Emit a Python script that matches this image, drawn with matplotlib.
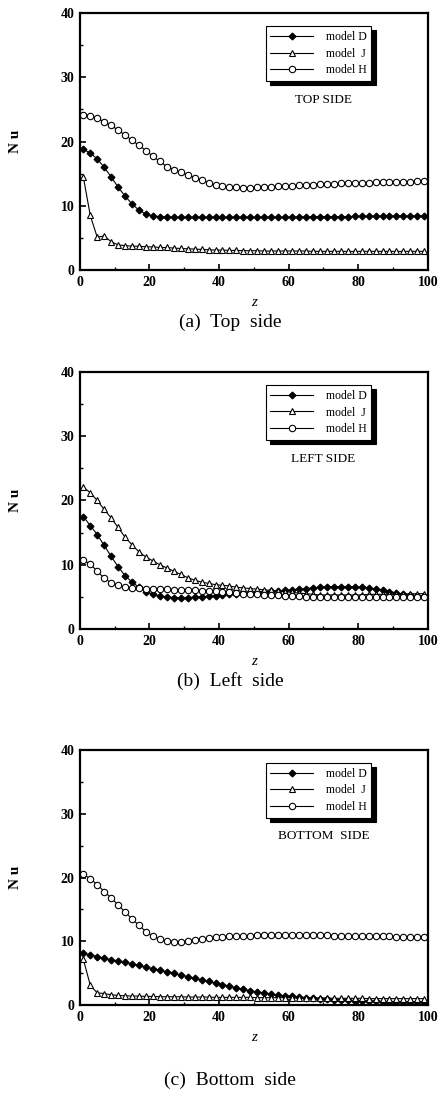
import numpy as np
import matplotlib
matplotlib.use("Agg")
import matplotlib.pyplot as plt
from matplotlib.ticker import MultipleLocator

plt.rcParams['font.family'] = ['Liberation Serif', 'DejaVu Serif']

# axial positions of the plotted points
z = np.arange(1, 100, 2)

# (a) top side
top_D = [18.8, 18.2, 17.3, 16.0, 14.5, 12.9, 11.5, 10.3, 9.3, 8.7,
         8.4, 8.3, 8.25, 8.2, 8.2, 8.2, 8.2, 8.2, 8.2, 8.2,
         8.2, 8.2, 8.2, 8.2, 8.2, 8.2, 8.2, 8.2, 8.2, 8.2,
         8.25, 8.25, 8.25, 8.3, 8.3, 8.3, 8.3, 8.3, 8.3, 8.35,
         8.35, 8.35, 8.35, 8.35, 8.4, 8.4, 8.4, 8.4, 8.4, 8.4]
top_J = [14.5, 8.5, 5.1, 5.3, 4.4, 3.9, 3.8, 3.7, 3.7, 3.6,
         3.6, 3.5, 3.5, 3.4, 3.35, 3.3, 3.25, 3.2, 3.15, 3.1,
         3.1, 3.05, 3.05, 3.0, 3.0, 3.0, 2.95, 2.95, 2.95, 2.95,
         2.95, 2.95, 2.95, 2.9, 2.9, 2.9, 2.9, 2.9, 2.9, 2.9,
         2.9, 2.9, 2.9, 2.9, 2.9, 2.9, 2.9, 2.9, 2.9, 2.9]
top_H = [24.2, 24.0, 23.6, 23.1, 22.5, 21.8, 21.0, 20.2, 19.4, 18.6,
         17.7, 16.9, 16.1, 15.6, 15.2, 14.8, 14.4, 14.0, 13.6, 13.2,
         13.0, 12.9, 12.85, 12.8, 12.8, 12.85, 12.9, 12.95, 13.0, 13.05,
         13.1, 13.2, 13.25, 13.3, 13.35, 13.4, 13.45, 13.5, 13.5, 13.55,
         13.6, 13.6, 13.65, 13.65, 13.7, 13.7, 13.75, 13.75, 13.8, 13.8]

# (b) left side
left_D = [17.5, 16.1, 14.7, 13.0, 11.3, 9.7, 8.3, 7.3, 6.5, 5.8,
          5.4, 5.1, 5.0, 4.9, 4.9, 4.9, 4.95, 5.0, 5.1, 5.2,
          5.3, 5.4, 5.5, 5.6, 5.7, 5.75, 5.8, 5.85, 5.9, 6.0,
          6.1, 6.2, 6.3, 6.4, 6.5, 6.55, 6.6, 6.6, 6.6, 6.55,
          6.5, 6.35, 6.2, 6.0, 5.8, 5.6, 5.45, 5.3, 5.2, 5.1]
left_J = [22.1, 21.2, 20.0, 18.6, 17.3, 15.8, 14.3, 13.1, 12.0, 11.2,
          10.6, 10.0, 9.5, 9.0, 8.5, 8.0, 7.6, 7.3, 7.1, 6.9,
          6.8, 6.7, 6.5, 6.4, 6.3, 6.2, 6.1, 6.0, 5.9, 5.8,
          5.7, 5.6, 5.5, 5.4, 5.3, 5.3, 5.3, 5.3, 5.3, 5.3,
          5.3, 5.4, 5.4, 5.4, 5.4, 5.4, 5.45, 5.45, 5.5, 5.5]
left_H = [10.7, 10.1, 9.0, 7.9, 7.2, 6.8, 6.55, 6.4, 6.35, 6.3,
          6.25, 6.2, 6.15, 6.1, 6.05, 6.0, 6.0, 5.95, 5.9, 5.85,
          5.8, 5.7, 5.6, 5.5, 5.45, 5.4, 5.35, 5.3, 5.25, 5.2,
          5.15, 5.1, 5.05, 5.0, 5.0, 4.95, 4.95, 4.95, 4.95, 4.95,
          4.95, 4.95, 4.95, 4.95, 4.95, 4.95, 4.95, 4.95, 4.95, 4.95]

# (c) bottom side
bot_D = [8.1, 7.9, 7.6, 7.35, 7.1, 6.9, 6.7, 6.45, 6.2, 5.95,
         5.7, 5.45, 5.2, 4.95, 4.7, 4.45, 4.2, 3.95, 3.7, 3.45,
         3.2, 2.95, 2.7, 2.45, 2.25, 2.05, 1.85, 1.7, 1.55, 1.45,
         1.35, 1.25, 1.15, 1.05, 1.0, 0.9, 0.85, 0.8, 0.75, 0.7,
         0.65, 0.6, 0.6, 0.55, 0.55, 0.5, 0.5, 0.5, 0.5, 0.5]
bot_J = [7.2, 3.1, 1.9, 1.8, 1.6, 1.5, 1.45, 1.4, 1.4, 1.35,
         1.35, 1.3, 1.3, 1.3, 1.3, 1.25, 1.25, 1.25, 1.25, 1.2,
         1.2, 1.2, 1.2, 1.2, 1.2, 1.15, 1.15, 1.15, 1.15, 1.15,
         1.1, 1.1, 1.1, 1.1, 1.1, 1.1, 1.05, 1.05, 1.05, 1.05,
         1.05, 1.0, 1.0, 1.0, 1.0, 1.0, 1.0, 1.0, 1.0, 1.0]
bot_H = [20.5, 19.8, 18.9, 17.8, 16.8, 15.7, 14.6, 13.5, 12.5, 11.5,
         10.8, 10.3, 10.05, 9.95, 9.95, 10.05, 10.2, 10.35, 10.5, 10.6,
         10.7, 10.75, 10.8, 10.85, 10.9, 10.95, 11.0, 11.0, 11.0, 11.0,
         11.0, 11.0, 11.0, 11.0, 11.0, 10.95, 10.9, 10.85, 10.85, 10.8,
         10.8, 10.8, 10.75, 10.75, 10.75, 10.7, 10.7, 10.7, 10.7, 10.7]

panels = [
    ("(a)  Top  side", "TOP SIDE", top_D, top_J, top_H),
    ("(b)  Left  side", "LEFT SIDE", left_D, left_J, left_H),
    ("(c)  Bottom  side", "BOTTOM  SIDE", bot_D, bot_J, bot_H),
]
# axes rectangles in figure fraction: left, bottom, width, height
rects = [
    [0.181, 0.753, 0.789, 0.235],
    [0.181, 0.4245, 0.789, 0.2352],
    [0.181, 0.0805, 0.789, 0.2333],
]
# caption centres, pixels from the top
caption_px = [322, 681, 1080]

fig = plt.figure(figsize=(4.41, 10.93), dpi=100)

for (caption, side, d, j, h), rect, cy in zip(panels, rects, caption_px):
    ax = fig.add_axes(rect)
    ax.plot(z, d, color='k', lw=0.8, marker='D', ms=3.4, mfc='k', mec='k',
            label='model D')
    ax.plot(z, j, color='k', lw=0.8, marker='^', ms=4.6, mfc='white', mec='k',
            mew=0.8, label='model  J')
    ax.plot(z, h, color='k', lw=0.8, marker='o', ms=4.6, mfc='white', mec='k',
            mew=0.8, label='model H')

    ax.set_xlim(0, 100)
    ax.set_ylim(0, 40)
    ax.xaxis.set_major_locator(MultipleLocator(20))
    ax.xaxis.set_minor_locator(MultipleLocator(10))
    ax.yaxis.set_major_locator(MultipleLocator(10))
    ax.yaxis.set_minor_locator(MultipleLocator(5))
    ax.tick_params(which='both', direction='in', top=False, right=False)
    ax.tick_params(which='major', length=4, width=1.2, labelsize=10, pad=4)
    ax.tick_params(which='minor', length=2, width=1.0)
    for lab in ax.get_xticklabels() + ax.get_yticklabels():
        lab.set_fontweight('bold')
    for sp in ax.spines.values():
        sp.set_linewidth(1.6)

    ax.set_ylabel("N u", fontsize=11, fontweight='bold')
    ax.yaxis.set_label_coords(-0.165, 0.5)
    ax.set_xlabel("z", fontsize=11, fontstyle='italic', va='center')
    ax.xaxis.set_label_coords(0.5, -0.128)

    leg = ax.legend(loc='upper left', bbox_to_anchor=(0.534, 0.949),
                    borderaxespad=0, fontsize=8.5, handlelength=3.6,
                    handletextpad=1.1, labelspacing=0.4, fancybox=False,
                    framealpha=1, edgecolor='k', borderpad=0.4,
                    shadow={'color': 'k', 'alpha': 1, 'ox': 3, 'oy': -3})
    leg.get_frame().set_linewidth(0.8)

    ax.text(0.70, 0.662, side, transform=ax.transAxes, ha='center',
            va='center', fontsize=9.5)

    fig.text(0.522, 1 - cy / 1093, caption, ha='center', va='center',
             fontsize=14)

fig.savefig("out.png", dpi=100)
